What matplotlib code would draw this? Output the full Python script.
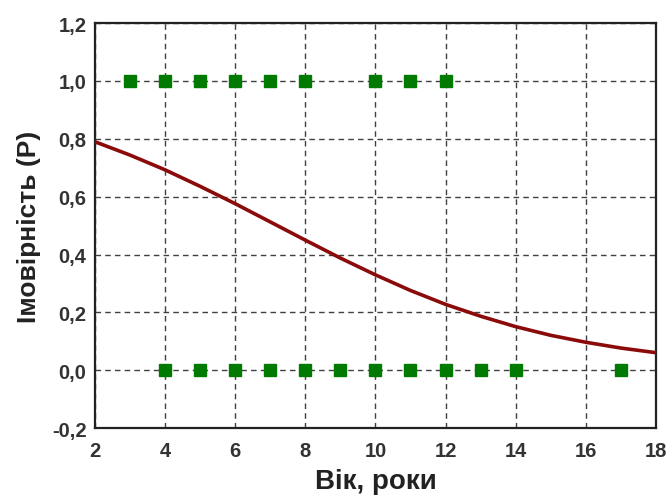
import matplotlib
matplotlib.use("Agg")
import matplotlib.pyplot as plt
from matplotlib.ticker import FuncFormatter

# Observed outcomes (1 = event, 0 = no event) by age
age_event = [3, 4, 5, 6, 7, 8, 10, 11, 12]
age_no_event = [4, 5, 6, 7, 8, 9, 10, 11, 12, 13, 14, 17]

# Fitted logistic probability by age
curve_age = [2, 3, 4, 5, 6, 7, 8, 9, 10, 11, 12, 13, 14, 15, 16, 17, 18]
curve_p = [0.790, 0.744, 0.693, 0.636, 0.576, 0.513, 0.450, 0.388, 0.330,
           0.276, 0.228, 0.187, 0.151, 0.121, 0.097, 0.077, 0.061]

x_ticks = [2, 4, 6, 8, 10, 12, 14, 16, 18]
y_ticks = [-0.2, 0.0, 0.2, 0.4, 0.6, 0.8, 1.0, 1.2]

plt.rcParams['font.family'] = ['Liberation Sans', 'DejaVu Sans']

fig = plt.figure(figsize=(6.68, 5.02), dpi=100)
ax = fig.add_axes([0.142, 0.145, 0.840, 0.807])

ax.grid(True, linestyle=(0, (4, 3)), color='#404040', linewidth=1.0, zorder=0)
ax.set_axisbelow(True)

ax.plot(curve_age, curve_p, color='#8b0a0a', linewidth=2.6, zorder=3)
ax.plot(age_event, [1.0] * len(age_event), linestyle='none', marker='s',
        markersize=8, color='#007a00', zorder=4)
ax.plot(age_no_event, [0.0] * len(age_no_event), linestyle='none', marker='s',
        markersize=8, color='#007a00', zorder=4)

ax.set_xlim(2, 18)
ax.set_ylim(-0.2, 1.2)
ax.set_xticks(x_ticks)
ax.set_yticks(y_ticks)
ax.xaxis.set_major_formatter(FuncFormatter(lambda v, p: f"{v:.0f}"))
ax.yaxis.set_major_formatter(FuncFormatter(lambda v, p: f"{v:.1f}".replace('.', ',')))
ax.tick_params(axis='x', length=0, pad=9, labelsize=14.5, labelcolor='#333333')
ax.tick_params(axis='y', length=0, pad=6, labelsize=14.5, labelcolor='#333333')
for lbl in ax.get_xticklabels() + ax.get_yticklabels():
    lbl.set_fontweight('bold')

for sp in ax.spines.values():
    sp.set_linewidth(1.6)
    sp.set_color('#222222')

ax.set_xlabel('Вік, роки', fontsize=20, fontweight='bold', color='#222222', labelpad=6)
ax.set_ylabel('Імовірність (P)', fontsize=19, fontweight='bold', color='#222222', labelpad=8)

fig.savefig('out.png', dpi=100)
